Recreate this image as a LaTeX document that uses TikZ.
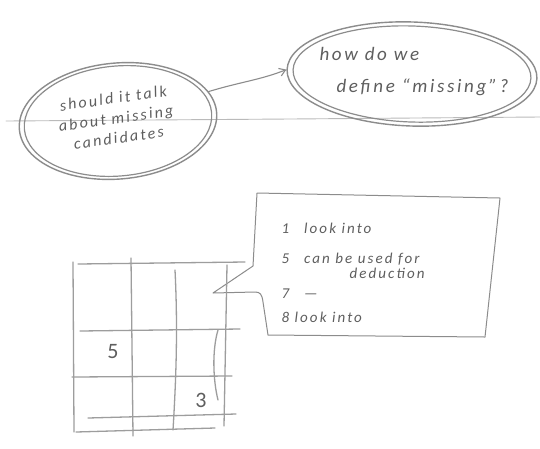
\documentclass[tikz,border=0pt]{standalone}
\usepackage{fontspec}
\setmainfont{Carlito}
\newfontfamily\handfont[LetterSpace=14]{Carlito}
\usetikzlibrary{shapes.geometric,arrows.meta}
\definecolor{pencil}{HTML}{8C8C8C}
\definecolor{ink}{HTML}{5E5E5E}
\tikzset{
  pen/.style={draw=pencil, line width=1.1pt, line cap=round, line join=round},
  faint/.style={draw=pencil!60, line width=0.9pt, line cap=round},
  bubble/.style={ellipse, pen, line width=1.4pt, inner sep=0pt},
  hand/.style={text=ink, font=\handfont\itshape\fontsize{16}{20}\selectfont, align=center},
  note/.style={text=ink, font=\handfont\itshape\fontsize{15}{17}\selectfont, anchor=base west},
  gridline/.style={draw=pencil!85, line width=1.3pt, line cap=round},
}
\begin{document}
\begin{tikzpicture}[x=1pt,y=-1pt]
\fill[white] (0,0) rectangle (540,448);
\useasboundingbox (0,0) rectangle (540,448);

% page line
\draw[faint] (6,121) -- (290,119) -- (540,117);

% left bubble
\node[bubble, minimum width=198pt, minimum height=116pt, rotate=5] (q1) at (118,121) {};
\draw[pen, line width=1.2pt, rotate around={5:(q1.center)}] (q1.center) ellipse [x radius=94pt, y radius=55pt];
\node[hand, rotate=8] (t1) at (116,118) {should it talk\\about missing\\candidates};

% right bubble
\node[bubble, minimum width=250pt, minimum height=104pt, rotate=-2] (q2) at (412,74) {};
\draw[pen, line width=1.2pt, rotate around={-2:(q2.center)}] (q2.center) ellipse [x radius=119pt, y radius=48pt];
\node[hand, font=\handfont\itshape\fontsize{19}{22}\selectfont, anchor=base west] (t2a) at (316,60) {how do we};
\node[hand, font=\handfont\itshape\fontsize{19}{22}\selectfont, anchor=base west] (t2b) at (333,92) {define “missing”?};

% arrow
\draw[pen, -{Straight Barb[length=6pt,width=8pt]}] (q1.13) .. controls (240,82) and (260,80) .. (q2.west);

% callout
\coordinate (tip) at (213,293);
\draw[pen, line width=1pt] (257,193) -- (500,198) -- (485,337) -- (268,335) -- (263,302)
  .. controls (262,294) and (260,292) .. (255,292) -- (tip) -- (253,266) -- cycle;
\node[note] (n1) at (278,233) {1\quad look into};
\node[note] (n5) at (278,263) {5\quad can be used for};
\node[note] (n5b) at (346,278) {deduction};
\node[note] (n7) at (278,298) {7\quad —};
\node[note] (n8) at (278,322) {8 look into};

% grid
\draw[gridline] (78,264) -- (245,262);
\draw[gridline] (80,331) -- (240,329);
\draw[gridline] (72,377) -- (232,376);
\draw[gridline] (88,418) -- (236,414);
\draw[gridline] (76,432) -- (215,428);
\draw[gridline] (73,262) -- (74,432);
\draw[gridline] (131,258) -- (133,436);
\draw[gridline] (175,270) .. controls (178,330) and (176,380) .. (173,430);
\draw[gridline] (227,265) -- (224,426);
\draw[gridline] (218,330) .. controls (212,350) and (213,380) .. (218,400);
\node[text=ink, font=\fontsize{22}{22}\selectfont] (five) at (113,352) {5};
\node[text=ink, font=\fontsize{22}{22}\selectfont] (three) at (201,400) {3};
\end{tikzpicture}
\end{document}
